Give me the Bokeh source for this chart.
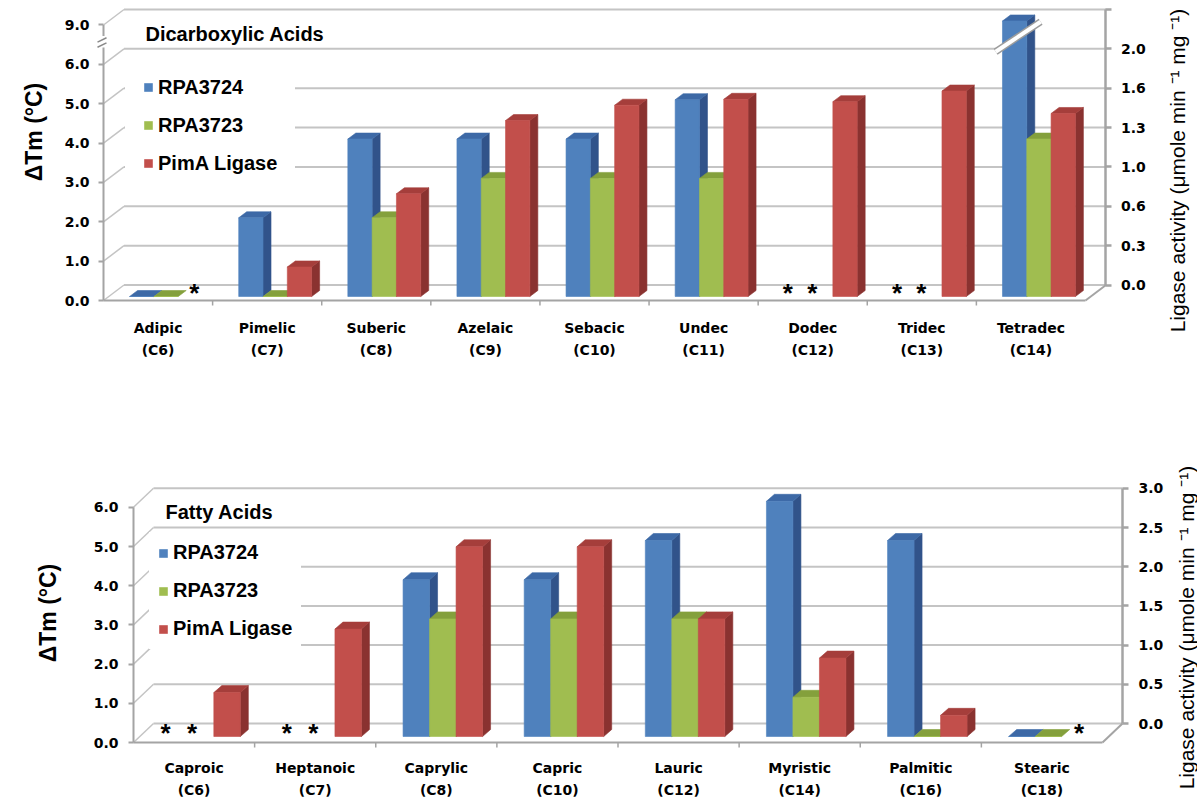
import math

from bokeh.core.properties import value
from bokeh.embed import file_html
from bokeh.models import FixedTicker, Legend, LegendItem, LinearAxis, Range1d
from bokeh.plotting import figure
from bokeh.resources import INLINE

# ---------------------------------------------------------------- data
series_names = ["RPA3724", "RPA3723", "PimA Ligase"]

# Dicarboxylic acids: thermal shift (ΔTm, °C) and PimA ligase activity
diacid_names = ["Adipic", "Pimelic", "Suberic", "Azelaic", "Sebacic",
                "Undec", "Dodec", "Tridec", "Tetradec"]
diacid_chains = ["(C6)", "(C7)", "(C8)", "(C9)", "(C10)",
                 "(C11)", "(C12)", "(C13)", "(C14)"]
diacid_rpa3724 = [0.0, 2.0, 4.0, 4.0, 4.0, 5.0, None, None, 9.0]
diacid_rpa3723 = [0.0, 0.0, 2.0, 3.0, 3.0, 3.0, None, None, 4.0]
diacid_pima = [None, 0.25, 0.87, 1.49, 1.62, 1.67, 1.65, 1.74, 1.55]
diacid_dtm_ticks = [0.0, 1.0, 2.0, 3.0, 4.0, 5.0, 6.0, 9.0]
diacid_act_ticks = [0.0, 1 / 3, 2 / 3, 1.0, 4 / 3, 5 / 3, 2.0, 7 / 3]
diacid_act_labels = ["0.0", "0.3", "0.6", "1.0", "1.3", "1.6", "2.0", ""]

# Fatty acids
fatty_names = ["Caproic", "Heptanoic", "Caprylic", "Capric", "Lauric",
               "Myristic", "Palmitic", "Stearic"]
fatty_chains = ["(C6)", "(C7)", "(C8)", "(C10)", "(C12)", "(C14)", "(C16)", "(C18)"]
fatty_rpa3724 = [None, None, 4.0, 4.0, 5.0, 6.0, 5.0, 0.0]
fatty_rpa3723 = [None, None, 3.0, 3.0, 3.0, 1.0, 0.0, 0.0]
fatty_pima = [0.56, 1.37, 2.42, 2.42, 1.50, 1.00, 0.27, None]
fatty_dtm_ticks = [0.0, 1.0, 2.0, 3.0, 4.0, 5.0, 6.0]
fatty_act_ticks = [0.0, 0.5, 1.0, 1.5, 2.0, 2.5, 3.0]
fatty_act_labels = ["0.0", "0.5", "1.0", "1.5", "2.0", "2.5", "3.0"]

# ---------------------------------------------------------------- style
FONT = "Liberation Sans"
HEAVY = "DejaVu Sans"
GRID = "#c4c4c4"
AXIS = "#a4a4a4"
FACES = {  # front, top, side
    "RPA3724": ("#4f81bd", "#3d69a6", "#31538a"),
    "RPA3723": ("#a0bd50", "#84a03c", "#6d8830"),
    "PimA Ligase": ("#c24f4b", "#a53e3b", "#8a3230"),
}
STAR_NUDGE_PX = (-8.5, -8.5, 4.0)   # asterisk offset from the empty slot, per series
DTM_TITLE = "ΔTm (°C)"
ACT_TITLE = "Ligase activity (μmole min ⁻¹ mg ⁻¹)"
WIDTH = 1197


def dtm_display(v):
    """ΔTm above 6 °C is drawn on the compressed segment above the axis break."""
    return v if v <= 6.0 else 6.0 + (v - 6.0) / 3.0


def build_panel(spec):
    names = spec["names"]
    n = len(names)
    H = spec["height"]
    sx, sy = spec["px_x"], spec["px_y"]
    ox, oy = spec["origin"]            # pixel position of the front-left floor corner
    x0, x1 = -ox / sx, (WIDTH - ox) / sx
    y0, y1 = -(H - oy) / sy, oy / sy
    wall_x = spec["wall_px"][0] / sx   # depth of the back wall
    wall_y = spec["wall_px"][1] / sy
    back_right = n + wall_x
    k = spec["act_k"]                  # ΔTm units per activity unit

    def px(x, y):
        return (x - ox) / sx, (oy - y) / sy

    p = figure(width=WIDTH, height=H,
               x_range=Range1d(x0, x1), y_range=Range1d(y0, y1),
               x_axis_type=None, output_backend="svg", toolbar_location=None,
               min_border_left=0, min_border_right=0,
               min_border_top=0, min_border_bottom=0,
               outline_line_color=None, background_fill_color="white",
               border_fill_color="white")
    p.ygrid.visible = False
    p.extra_y_ranges = {"activity": Range1d((y0 - wall_y) / k, (y1 - wall_y) / k)}

    tick_disp = [dtm_display(t) for t in spec["dtm_ticks"]]
    top_disp = max(tick_disp)

    # back wall gridlines and side-wall diagonals
    m = len(tick_disp)
    p.segment(x0=[wall_x] * m, y0=[t + wall_y for t in tick_disp],
              x1=[back_right] * m, y1=[t + wall_y for t in tick_disp],
              line_color=GRID, line_width=2)
    p.segment(x0=[0.0] * m, y0=tick_disp, x1=[wall_x] * m,
              y1=[t + wall_y for t in tick_disp], line_color=GRID, line_width=1.5)

    # floor edges and category separators
    p.segment(x0=[0.0, n], y0=[0.0, 0.0], x1=[n, back_right], y1=[0.0, wall_y],
              line_color=AXIS, line_width=2)
    sep = list(range(1, n))
    p.segment(x0=sep, y0=[0.0] * len(sep), x1=sep, y1=[-5 / sy] * len(sep),
              line_color=AXIS, line_width=1.5)

    # left axis rule, broken when values above 6 are shown
    if top_disp > 6.0:
        gap_lo, gap_hi = 6.43, 6.72
        p.segment(x0=[0.0, 0.0], y0=[0.0, gap_hi], x1=[0.0, 0.0], y1=[gap_lo, top_disp],
                  line_color=AXIS, line_width=2)
        for yc in (6.49, 6.62):
            p.segment(x0=[-6 / sx], y0=[yc - 2.2 / sy], x1=[3 / sx], y1=[yc + 2.2 / sy],
                      line_color="#8a8a8a", line_width=1.5)
    else:
        p.segment(x0=[0.0], y0=[0.0], x1=[0.0], y1=[top_disp],
                  line_color=AXIS, line_width=2)

    # 3-D clustered bars
    w = spec["bar_w"]
    fx, fy = spec["bar_shift_px"][0] / sx, spec["bar_shift_px"][1] / sy
    ddx, ddy = spec["depth_px"][0] / sx, spec["depth_px"][1] / sy
    cluster = 3 * w
    fronts = []
    stars_x = []
    breaks = []
    for j, (name, vals) in enumerate(zip(series_names, spec["series"])):
        on_act = name == "PimA Ligase"
        rname = "activity" if on_act else "default"
        scale = k if on_act else 1.0
        base = (fy - (wall_y if on_act else 0.0)) / scale
        dy = ddy / scale
        front, top_c, side_c = FACES[name]
        L, R, B, T = [], [], [], []
        txs, tys, sxs, sys_ = [], [], [], []
        for i, v in enumerate(vals):
            left = i + 0.5 - cluster / 2 + fx + j * w
            if v is None:
                stars_x.append(left + w / 2 + STAR_NUDGE_PX[j] / sx)
                continue
            h = v if on_act else dtm_display(v)
            right = left + w
            b, t = base, base + h
            L.append(left); R.append(right); B.append(b); T.append(t)
            txs.append([left, right, right + ddx, left + ddx])
            tys.append([t, t, t + dy, t + dy])
            if h > 0:
                sxs.append([right, right + ddx, right + ddx, right])
                sys_.append([b, b + dy, t + dy, t])
            if not on_act and v > 6.0:
                breaks.append((left + w / 2, b + 6.6))
        if sxs:
            p.patches(sxs, sys_, y_range_name=rname, fill_color=side_c,
                      line_color=side_c, line_width=0.6)
        p.patches(txs, tys, y_range_name=rname, fill_color=top_c,
                  line_color=top_c, line_width=0.6)
        fronts.append(p.quad(left=L, right=R, bottom=B, top=T, y_range_name=rname,
                             fill_color=front, line_color=front, line_width=0.6))

    # broken bar marker
    for (bxc, byc) in breaks:
        hx, hy = 22.5 / sx, 15.0 / sy
        xa, ya, xb, yb = bxc + 3.5 / sx - hx, byc - hy, bxc + 3.5 / sx + hx, byc + hy
        p.segment(x0=[xa], y0=[ya], x1=[xb], y1=[yb], line_color="#9c9c9c",
                  line_width=7, line_cap="butt")
        p.segment(x0=[xa], y0=[ya], x1=[xb], y1=[yb], line_color="white",
                  line_width=4, line_cap="butt")

    # untested combinations
    p.text(x=stars_x, y=[spec["star_y"]] * len(stars_x), text=["*"] * len(stars_x),
           text_align="center", text_baseline="middle", text_font=value(FONT),
           text_font_style="bold", text_font_size="26px", text_color="black")

    # category labels
    centers = [i + 0.5 for i in range(n)]
    for labels, yy in ((names, spec["name_y"]), (spec["chains"], spec["chain_y"])):
        p.text(x=centers, y=[yy] * n, text=labels, text_align="center",
               text_baseline="middle", text_font=value(HEAVY), text_font_style="bold",
               text_font_size="14px", text_color="black")

    # panel heading
    p.text(x=[spec["head_x_px"] / sx], y=[spec["head_y"]], text=[spec["heading"]],
           text_align="left", text_baseline="middle", text_font=value(FONT),
           text_font_style="bold", text_font_size="20px", text_color="black")

    # axis titles
    lx, ly = px(*spec["ltitle_px"])
    p.text(x=[lx], y=[ly], text=[DTM_TITLE], angle=math.pi / 2, text_align="center",
           text_baseline="alphabetic", text_font=value(FONT), text_font_style="bold",
           text_font_size="23px", text_color="black")
    rx, ry = px(*spec["rtitle_px"])
    p.text(x=[rx], y=[ry], text=[ACT_TITLE], angle=math.pi / 2, text_align="center",
           text_baseline="alphabetic", text_font=value(FONT), text_font_style="normal",
           text_font_size="21px", text_color="black")

    # left (ΔTm) axis on the front edge
    ax = p.left[0]
    ax.fixed_location = 0.0
    ax.ticker = FixedTicker(ticks=tick_disp)
    ax.major_label_overrides = {d: f"{t:.1f}" for d, t in zip(tick_disp, spec["dtm_ticks"])}
    ax.bounds = (0, top_disp)
    ax.axis_line_color = None
    ax.major_tick_line_color = AXIS
    ax.major_tick_line_width = 2
    ax.major_tick_out = 5
    ax.major_tick_in = 0
    ax.minor_tick_out = 0
    ax.minor_tick_in = 0
    ax.major_label_standoff = spec["left_standoff"]
    ax.major_label_text_font = HEAVY
    ax.major_label_text_font_style = "bold"
    ax.major_label_text_font_size = "14px"
    ax.major_label_text_color = "black"

    # right (ligase activity) axis on the back wall
    ra = LinearAxis(y_range_name="activity", fixed_location=back_right,
                    ticker=FixedTicker(ticks=spec["act_ticks"]),
                    major_label_overrides=dict(zip(spec["act_ticks"], spec["act_labels"])),
                    bounds=(0, max(spec["act_ticks"])),
                    axis_line_color=AXIS, axis_line_width=2.5,
                    major_tick_line_color=AXIS, major_tick_line_width=2.5,
                    major_tick_out=6, major_tick_in=0, minor_tick_out=0, minor_tick_in=0,
                    major_label_standoff=spec["right_standoff"],
                    major_label_text_font=HEAVY, major_label_text_font_style="bold",
                    major_label_text_font_size="14px", major_label_text_color="black")
    p.add_layout(ra, "right")

    # legend on a white panel that hides the wall gridlines behind it
    legend = Legend(items=[LegendItem(label=s, renderers=[r]) for s, r in zip(series_names, fronts)],
                    location=spec["legend_loc"], orientation="vertical",
                    padding=spec["legend_pad"], spacing=15, margin=0, label_standoff=5,
                    glyph_width=10, glyph_height=10, label_height=23,
                    label_text_font=FONT, label_text_font_style="bold",
                    label_text_font_size="20px", label_text_color="black",
                    border_line_color="white", border_line_width=1,
                    background_fill_color="white", background_fill_alpha=1.0)
    p.add_layout(legend)
    return p


top = build_panel(dict(
    names=diacid_names, chains=diacid_chains,
    series=[diacid_rpa3724, diacid_rpa3723, diacid_pima],
    dtm_ticks=diacid_dtm_ticks, act_ticks=diacid_act_ticks, act_labels=diacid_act_labels,
    act_k=3.0, heading="Dicarboxylic Acids",
    height=400, origin=(103, 300), px_x=109.11, px_y=39.36, wall_px=(20.5, 15.5),
    bar_w=0.2227, bar_shift_px=(8, 4), depth_px=(8, 6),
    star_y=0.2, name_y=-0.686, chain_y=-1.27, head_x_px=42, head_y=6.78,
    left_standoff=9, right_standoff=9,
    ltitle_px=(33, 131.5), rtitle_px=(1177, 170),
    legend_loc=(125, 207.5), legend_pad=17,
))

bottom = build_panel(dict(
    names=fatty_names, chains=fatty_chains,
    series=[fatty_rpa3724, fatty_rpa3723, fatty_pima],
    dtm_ticks=fatty_dtm_ticks, act_ticks=fatty_act_ticks, act_labels=fatty_act_labels,
    act_k=2.0, heading="Fatty Acids",
    height=401, origin=(133, 342), px_x=121.125, px_y=39.2, wall_px=(20, 19),
    bar_w=0.2188, bar_shift_px=(6.5, 6), depth_px=(8, 7),
    star_y=0.255, name_y=-0.663, chain_y=-1.224, head_x_px=32, head_y=5.87,
    left_standoff=10, right_standoff=10,
    ltitle_px=(47, 212.5), rtitle_px=(1186, 227),
    legend_loc=(149, 152), legend_pad=8,
))

open("out.html", "w").write(file_html([top, bottom], INLINE))
